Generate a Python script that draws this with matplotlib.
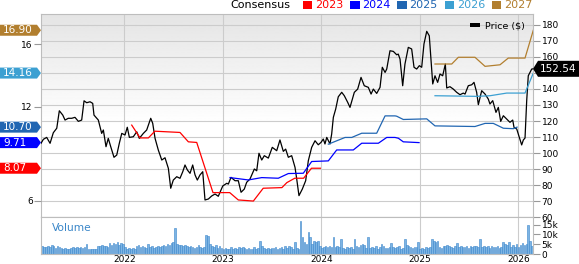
import numpy as np
import matplotlib
matplotlib.use('Agg')
import matplotlib.pyplot as plt
from matplotlib.patches import Polygon, Rectangle
from matplotlib.transforms import IdentityTransform

plt.rcParams['font.family'] = ['DejaVu Sans']

# weekly close price ($), x in decimal years
price_t = [
    2021.154, 2021.178, 2021.212, 2021.246, 2021.279, 2021.314, 2021.340, 2021.375, 2021.398, 2021.431,
    2021.466, 2021.499, 2021.533, 2021.567, 2021.591, 2021.618, 2021.652, 2021.679, 2021.692, 2021.736,
    2021.770, 2021.787, 2021.814, 2021.837, 2021.862, 2021.895, 2021.923, 2021.949, 2021.974, 2022.007,
    2022.030, 2022.051, 2022.091, 2022.126, 2022.152, 2022.193, 2022.227, 2022.268, 2022.288, 2022.312,
    2022.345, 2022.380, 2022.413, 2022.447, 2022.471, 2022.497, 2022.532, 2022.565, 2022.593, 2022.616,
    2022.640, 2022.667, 2022.694, 2022.718, 2022.741, 2022.768, 2022.796, 2022.819, 2022.853, 2022.887,
    2022.921, 2022.954, 2022.999, 2023.040, 2023.056, 2023.083, 2023.124, 2023.157, 2023.185, 2023.218,
    2023.242, 2023.276, 2023.320, 2023.344, 2023.367, 2023.395, 2023.421, 2023.462, 2023.502, 2023.547,
    2023.580, 2023.614, 2023.638, 2023.665, 2023.699, 2023.733, 2023.750, 2023.773, 2023.807, 2023.841,
    2023.868, 2023.902, 2023.936, 2023.969, 2023.997, 2024.020, 2024.037, 2024.055, 2024.088, 2024.105,
    2024.122, 2024.146, 2024.172, 2024.207, 2024.233, 2024.268, 2024.291, 2024.335, 2024.369, 2024.403,
    2024.436, 2024.477, 2024.505, 2024.528, 2024.562, 2024.596, 2024.619, 2024.647, 2024.664, 2024.697,
    2024.731, 2024.765, 2024.781, 2024.799, 2024.826, 2024.849, 2024.883, 2024.917, 2024.941, 2024.968,
    2024.995, 2025.019, 2025.042, 2025.070, 2025.096, 2025.131, 2025.154, 2025.181, 2025.205, 2025.232,
    2025.259, 2025.273, 2025.306, 2025.340, 2025.374, 2025.408, 2025.441, 2025.459, 2025.492, 2025.527,
    2025.550, 2025.577, 2025.594, 2025.628, 2025.662, 2025.695, 2025.712, 2025.740, 2025.773, 2025.797,
    2025.821, 2025.848, 2025.882, 2025.915, 2025.943, 2025.956, 2025.984, 2026.010, 2026.034, 2026.051,
    2026.068, 2026.085, 2026.101, 2026.136, 2026.152]
price_v = [
    106.1, 108.6, 109.8, 106.1, 112.7, 115.5, 126.4, 123.7, 120.6, 121.7,
    121.7, 122.3, 119.8, 120.6, 132.6, 131.4, 132.0, 131.0, 123.7, 120.6,
    112.3, 114.4, 104.0, 109.2, 104.0, 97.4, 98.8, 106.1, 112.3, 111.3,
    116.1, 109.8, 110.2, 113.3, 109.2, 112.3, 114.4, 121.7, 118.6, 109.2,
    101.9, 95.7, 97.1, 90.5, 78.1, 83.2, 85.3, 84.3, 88.4, 92.6,
    89.5, 87.4, 92.6, 86.4, 83.2, 86.4, 88.4, 70.8, 71.4, 73.3,
    74.5, 73.1, 79.5, 81.2, 80.7, 84.9, 82.8, 82.8, 75.6, 77.6,
    81.8, 83.9, 90.1, 89.0, 99.9, 95.7, 98.4, 96.9, 103.6, 101.5,
    108.2, 101.1, 102.5, 97.4, 98.4, 91.1, 83.9, 73.5, 77.6, 82.8,
    95.3, 103.6, 107.7, 105.2, 106.7, 108.8, 105.7, 109.8, 105.7, 111.9,
    122.3, 127.5, 135.1, 137.9, 135.8, 131.6, 128.5, 137.9, 139.9, 147.2,
    142.0, 141.0, 136.8, 139.9, 137.2, 141.0, 153.5, 150.3, 152.4, 163.8,
    163.4, 161.3, 161.7, 158.6, 142.0, 155.5, 165.9, 164.9, 153.5, 152.4,
    154.5, 153.5, 168.0, 175.9, 173.1, 143.1, 148.2, 144.1, 149.3, 148.2,
    155.5, 140.6, 141.4, 139.9, 137.9, 136.4, 137.4, 136.8, 142.0, 142.6,
    144.1, 137.9, 130.2, 138.9, 136.8, 133.7, 130.6, 132.7, 125.4, 128.5,
    119.8, 123.3, 121.2, 119.2, 120.6, 116.1, 115.0, 109.9, 105.1, 108.2,
    109.4, 132.7, 148.2, 152.4, 152.54]
last_price = 152.54

# consensus EPS estimates per fiscal year
eps_2023_t = [2022.075, 2022.160, 2022.244, 2022.310, 2022.565, 2022.650, 2022.735, 2022.900, 2023.070,
              2023.157, 2023.310, 2023.410, 2023.600, 2023.650, 2023.730, 2023.820, 2023.900, 2023.990]
eps_2023_v = [10.83, 10.01, 10.01, 10.44, 10.36, 9.76, 9.72, 6.51, 6.51,
              6.04, 5.97, 6.79, 6.83, 7.15, 7.43, 7.43, 8.07, 8.07]

eps_2024_t = [2023.073, 2023.259, 2023.395, 2023.563, 2023.665, 2023.817, 2023.902, 2024.071, 2024.156,
              2024.325, 2024.410, 2024.579, 2024.664, 2024.748, 2024.782, 2024.832, 2024.992]
eps_2024_v = [7.47, 7.32, 7.47, 7.43, 7.73, 7.75, 8.50, 8.54, 9.24,
              9.24, 9.67, 9.67, 10.04, 10.04, 9.99, 9.76, 9.71]

eps_2025_t = [2024.071, 2024.241, 2024.309, 2024.410, 2024.562, 2024.647, 2024.748, 2024.765, 2024.832,
              2025.070, 2025.154, 2025.560, 2025.662, 2025.746, 2025.848, 2025.949, 2025.987]
eps_2025_v = [9.61, 10.04, 10.04, 10.31, 10.31, 11.42, 11.42, 11.40, 11.19,
              11.23, 10.78, 10.74, 10.94, 10.94, 10.63, 10.60, 10.70]

eps_2026_t = [2025.154, 2025.578, 2025.713, 2025.882, 2026.068, 2026.152]
eps_2026_v = [12.71, 12.67, 12.71, 12.88, 12.88, 14.16]

eps_2027_t = [2025.154, 2025.324, 2025.391, 2025.560, 2025.662, 2025.814, 2025.898, 2026.068, 2026.152]
eps_2027_v = [14.74, 14.74, 15.17, 15.17, 14.59, 14.69, 15.12, 15.12, 16.90]

fiscal_years = ['2023', '2024', '2025', '2026', '2027']
eps_colors = ['#ff0000', '#0000ff', '#2166b2', '#3ca0d2', '#b27f2f']

# weekly volume (thousands)
volume_k = [
    4.0, 3.6, 3.8, 4.2, 3.5, 4.5, 3.9, 3.2, 4.1, 3.6,
    3.0, 2.6, 2.9, 2.5, 2.8,
    3.3, 3.8, 3.2, 3.6, 3.0, 3.5, 3.1, 3.4, 5.0,
    2.5, 2.7, 2.4, 2.6, 2.8,
    4.3, 4.0, 4.4, 3.9, 4.1, 3.6,
    5.6, 4.4, 5.8, 5.0, 6.0, 4.8, 5.7, 5.3,
    3.4, 2.8, 3.2, 2.5, 3.0, 2.7,
    4.0, 4.5, 3.8, 4.2, 3.5, 3.2,
    5.2, 3.6, 3.9, 3.2, 3.5, 4.0, 3.4,
    4.3, 4.8, 3.9, 5.0, 4.4, 5.6, 6.0,
    13.4,
    5.2, 4.6, 4.8, 4.1, 4.5,
    3.9, 3.4, 4.2, 3.6, 3.2, 3.8, 4.4, 3.5, 3.0, 3.7,
    9.5, 9.4,
    5.0, 4.2, 3.6, 4.8, 3.3, 4.0,
    3.2, 2.6, 3.0, 2.4, 2.8, 3.4, 2.7, 3.1, 2.5, 3.6,
    2.9, 3.8, 3.3, 2.6, 3.0, 2.4, 2.8, 3.5, 2.7, 2.9,
    6.5,
    4.0, 3.0, 2.7, 3.3, 2.5, 3.2, 2.9, 3.6, 2.4, 3.0, 3.4, 2.8, 3.9, 3.1, 4.2, 3.5,
    2.6, 6.0, 3.0, 2.8,
    17.0,
    8.6, 6.0, 5.2, 11.2, 8.6, 5.2, 6.9, 6.0, 6.9, 4.3,
    3.2, 3.6, 4.0, 3.8, 4.2, 3.5,
    8.6,
    3.8, 4.3, 3.5, 7.7,
    3.2, 2.8, 3.6, 3.0, 3.4, 2.6, 7.7,
    4.2, 3.6, 4.8, 5.0, 4.4, 3.2, 8.6,
    3.0, 3.8, 3.2, 4.2, 2.8, 3.5, 5.2, 4.0, 3.3, 2.9, 3.6, 5.5, 3.8, 3.1, 3.5, 4.0, 2.7, 3.2,
    7.7,
    4.5, 4.2, 3.6, 3.0, 3.4, 3.8, 6.0,
    2.6, 3.2, 2.8, 3.5, 3.0, 3.6,
    7.7, 6.5, 6.0, 6.8,
    3.8, 3.2, 4.0, 4.3, 4.5, 4.0, 3.6, 3.3, 4.1,
    5.7,
    3.6, 4.0, 3.5, 3.8, 4.2, 3.3, 4.0, 3.6, 3.9, 4.3, 3.5,
    7.7,
    3.6, 4.2, 3.5, 3.9, 3.3, 4.0, 3.6, 3.4, 4.1, 3.2, 3.7,
    6.0, 5.2, 4.5, 6.0,
    3.8, 4.4, 3.6, 5.2, 3.8, 4.8, 5.5, 4.6, 5.0,
    15.0,
    6.5, 4.3]
vol_start, vol_end = 2021.165, 2026.14

years = [2022, 2023, 2024, 2025, 2026]
price_ticks = list(range(60, 181, 10))
eps_ticks = [6, 12, 16]

W, H = 579, 264
GRID = '#cccccc'
SPINE = '#bdbdbd'
XLIM = (2021.154, 2026.152)

fig = plt.figure(figsize=(W / 100, H / 100), dpi=100)
ax = fig.add_axes([41 / W, 1 - 217.3 / H, 492.3 / W, 203.3 / H])
axv = fig.add_axes([41 / W, 1 - 254 / H, 492.3 / W, 36.7 / H])

# background gradient: light grey at the top fading to white
fade = np.linspace(0, 1, 256)
grad = np.clip(0.895 + 0.105 * fade / 0.55, 0.895, 1.0).reshape(-1, 1)
ax.imshow(grad, extent=[0, 1, 0, 1], transform=ax.transAxes, aspect='auto',
          cmap='gray', vmin=0, vmax=1, origin='upper', zorder=0)

# price (right axis)
ax.plot(price_t, price_v, color='black', lw=0.9, zorder=3)
ax.set_xlim(*XLIM)
ax.set_ylim(60, 186.7)
ax.set_yticks(price_ticks)
# the 150 label sits under the last-price tag
ax.set_yticklabels(['' if p == 150 else str(p) for p in price_ticks])
ax.set_xticks(years)
ax.set_xticklabels([])
ax.grid(True, color=GRID, lw=0.8, zorder=1)
ax.tick_params(axis='x', length=0)
for s in ax.spines.values():
    s.set_color(SPINE)

# consensus EPS (left axis)
axe = ax.twinx()
eps_series = [(eps_2023_t, eps_2023_v), (eps_2024_t, eps_2024_v), (eps_2025_t, eps_2025_v),
              (eps_2026_t, eps_2026_v), (eps_2027_t, eps_2027_v)]
for (t, v), c in zip(eps_series, eps_colors):
    axe.plot(t, v, color=c, lw=0.9)
axe.set_ylim(4.93, 17.94)
axe.set_xlim(*XLIM)
axe.set_yticks(eps_ticks)
axe.yaxis.tick_left()
axe.tick_params(axis='y', labelsize=6.5, length=5, color='#999999', pad=1)
for s in axe.spines.values():
    s.set_visible(False)

# twinx moved the price ticks to the left; put them back on the right
ax.yaxis.tick_right()
ax.tick_params(axis='y', which='both', labelsize=6.5, length=5, color='#999999', pad=1,
               left=False, labelleft=False, right=True, labelright=True)

# volume
bar_t = np.linspace(vol_start, vol_end, len(volume_k))
axv.bar(bar_t, volume_k, width=0.0165, color='#7db4e3', edgecolor='#3a86cc', lw=0.4, zorder=2)
axv.set_xlim(*XLIM)
axv.set_ylim(0, 18.8)
axv.yaxis.tick_right()
axv.set_yticks([0, 5, 10, 15])
axv.set_yticklabels(['0', '5k', '10k', '15k'])
axv.set_xticks(years)
axv.set_xticklabels([str(y) for y in years])
axv.grid(True, axis='x', color=GRID, lw=0.8, zorder=1)
axv.tick_params(axis='y', labelsize=6.5, length=5, color='#999999', pad=1)
axv.tick_params(axis='x', labelsize=6.5, length=0, pad=0.5)
for s in axv.spines.values():
    s.set_color(SPINE)
axv.text(0.022, 0.72, 'Volume', transform=axv.transAxes, color='#3a86c8', fontsize=7.7, va='center')


def left_tag(val, color):
    y = axe.transData.transform((2022, val))[1]
    h = 5.5
    pts = [(0, y - h), (37, y - h), (41, y), (37, y + h), (0, y + h)]
    fig.add_artist(Polygon(pts, closed=True, fc=color, ec='none', transform=IdentityTransform()))
    fig.text(3 / W, y / H, f'{val:.2f}', color='white', fontsize=7.5, va='center', ha='left')


def right_tag(val):
    y = ax.transData.transform((2022, val))[1]
    h = 8
    pts = [(533, y), (538, y - h), (579, y - h), (579, y + h), (538, y + h)]
    fig.add_artist(Polygon(pts, closed=True, fc='black', ec='none', transform=IdentityTransform()))
    fig.text(540 / W, y / H, f'{val:.2f}', color='white', fontsize=7.5, va='center', ha='left')


for (t, v), c in zip(eps_series, eps_colors):
    left_tag(v[-1], c)
right_tag(last_price)

# price legend
fig.add_artist(Rectangle((470 / W, 1 - 27.3 / H), 10 / W, 4 / H, fc='black', ec='none',
                         transform=fig.transFigure))
fig.text(485 / W, 1 - 25.5 / H, 'Price ($)', fontsize=6.8, va='center', ha='left')

# consensus legend
fig.text(230 / W, 1 - 5.5 / H, 'Consensus', fontsize=8, va='center', ha='left')
for i, (fy, c) in enumerate(zip(fiscal_years, eps_colors)):
    x0 = 302.7 + i * 47.3
    fig.add_artist(Rectangle((x0 / W, 1 - 9.3 / H), 9.5 / W, 8 / H, fc=c, ec='none',
                             transform=fig.transFigure))
    fig.text((x0 + 12.3) / W, 1 - 5.5 / H, fy, color=c, fontsize=8, va='center', ha='left')

fig.savefig('out.png', dpi=100)
